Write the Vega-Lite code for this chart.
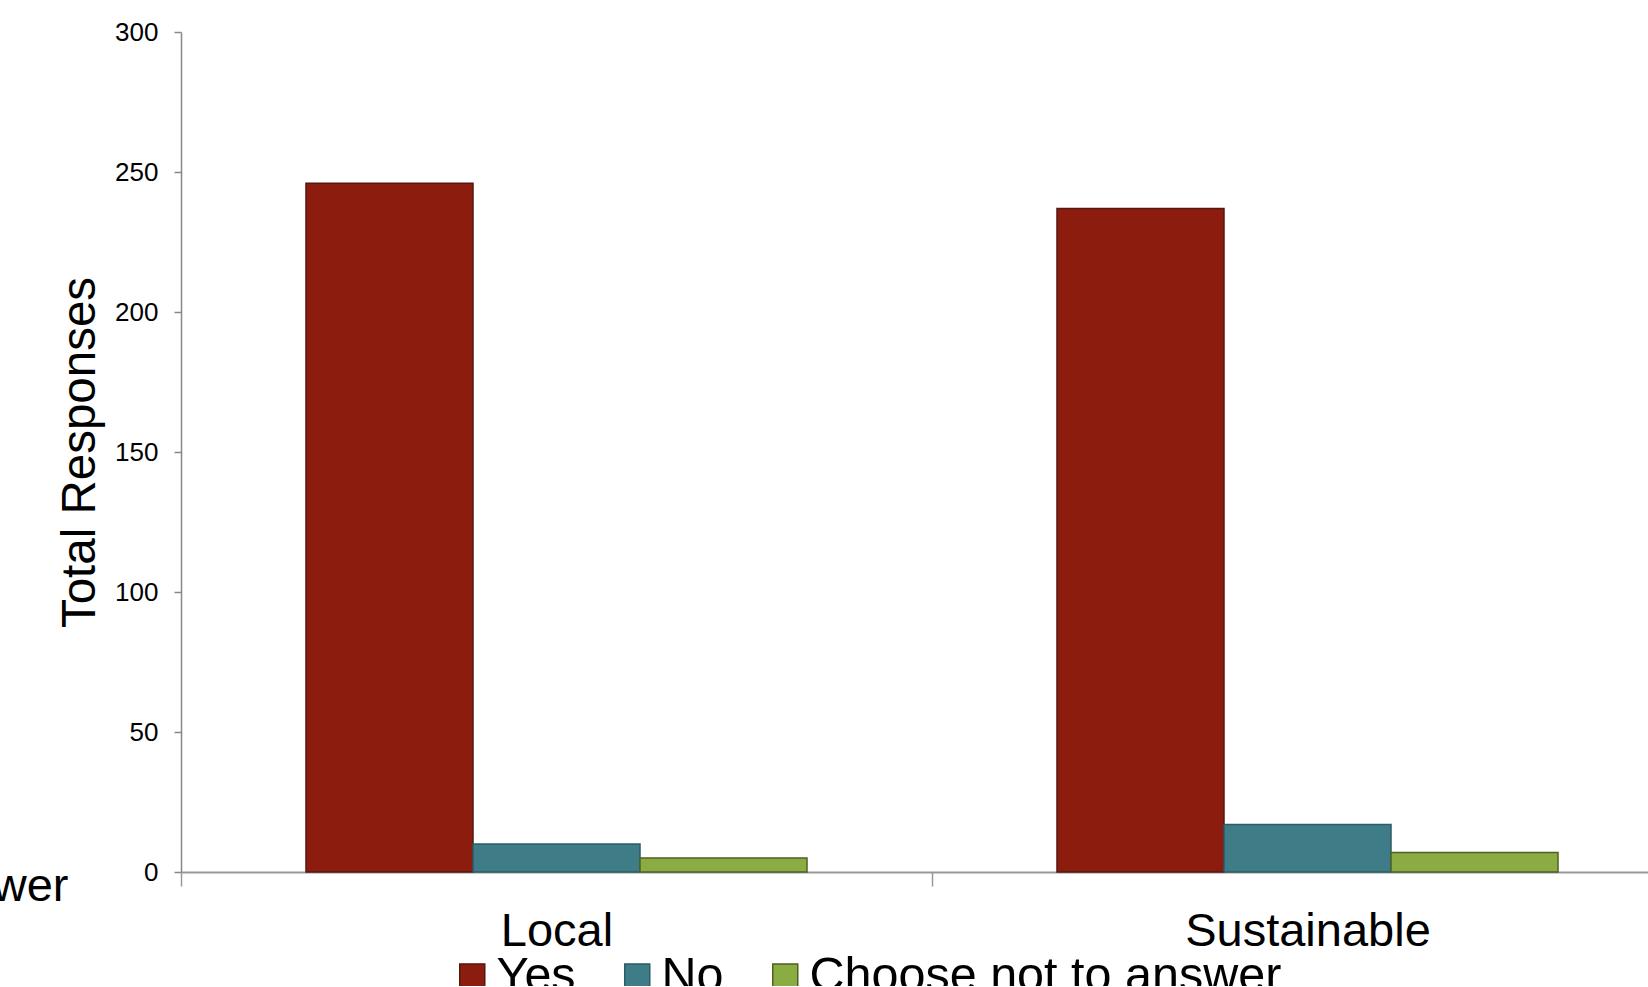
{
  "$schema": "https://vega.github.io/schema/vega-lite/v6.json",
  "autosize": {"type": "none"},
  "padding": {"left": 181, "top": 32, "right": 0, "bottom": 114},
  "width": 1467,
  "height": 840,
  "background": "white",
  "config": {
    "font": "Liberation Sans",
    "view": {"stroke": null},
    "axis": {"labelColor": "#000000", "titleColor": "#000000", "titleFontWeight": "normal", "grid": false}
  },
  "data": {
    "values": [
      {"topic": "Local", "answer": "Yes", "responses": 246},
      {"topic": "Local", "answer": "No", "responses": 10},
      {"topic": "Local", "answer": "Choose not to answer", "responses": 5},
      {"topic": "Sustainable", "answer": "Yes", "responses": 237},
      {"topic": "Sustainable", "answer": "No", "responses": 17},
      {"topic": "Sustainable", "answer": "Choose not to answer", "responses": 7}
    ]
  },
  "mark": {"type": "bar", "strokeWidth": 1.5},
  "encoding": {
    "x": {
      "field": "topic",
      "type": "nominal",
      "sort": ["Local", "Sustainable"],
      "scale": {"range": [0, 1502], "paddingInner": 0, "paddingOuter": 0},
      "axis": {
        "title": "Choose not to answer",
        "titleFontSize": 47,
        "titleAlign": "right",
        "titleAnchor": "start",
        "titleBaseline": "alphabetic",
        "titleX": -113,
        "titleY": 28,
        "labelAngle": 0,
        "labelFontSize": 47,
        "labelLimit": 500,
        "labelBaseline": "alphabetic",
        "labelPadding": 59,
        "tickBand": "extent",
        "tickSize": 14,
        "tickColor": "#999999",
        "tickWidth": 1.5,
        "domainColor": "#999999",
        "domainWidth": 2
      }
    },
    "xOffset": {
      "field": "answer",
      "type": "nominal",
      "sort": ["Yes", "No", "Choose not to answer"],
      "scale": {"paddingInner": 0, "paddingOuter": 0.7485}
    },
    "y": {
      "field": "responses",
      "type": "quantitative",
      "scale": {"domain": [0, 300], "nice": false},
      "axis": {
        "title": "Total Responses",
        "titleFontSize": 47.5,
        "titleAngle": 270,
        "titleAlign": "center",
        "titleBaseline": "alphabetic",
        "titleX": -87,
        "titleY": 420,
        "values": [0, 50, 100, 150, 200, 250, 300],
        "labelFontSize": 26,
        "labelPadding": 16,
        "tickSize": 7,
        "tickColor": "#888888",
        "tickWidth": 1.5,
        "domainColor": "#888888",
        "domainWidth": 1.5
      }
    },
    "fill": {
      "field": "answer",
      "type": "nominal",
      "scale": {"domain": ["Yes", "No", "Choose not to answer"], "range": ["#8b1c0e", "#3e7d88", "#8bab43"]},
      "legend": {
        "title": null,
        "orient": "none",
        "direction": "horizontal",
        "legendX": 267,
        "legendY": 920,
        "symbolType": "square",
        "symbolSize": 625,
        "symbolStrokeWidth": 1.5,
        "labelFontSize": 48.5,
        "labelColor": "#000000",
        "labelOffset": 0,
        "columnPadding": 37,
        "labelLimit": 600
      }
    },
    "stroke": {
      "field": "answer",
      "type": "nominal",
      "scale": {"domain": ["Yes", "No", "Choose not to answer"], "range": ["#561612", "#2c5c64", "#4f6122"]},
      "legend": {
        "title": null,
        "orient": "none",
        "direction": "horizontal",
        "legendX": 267,
        "legendY": 920,
        "symbolType": "square",
        "symbolSize": 625,
        "symbolStrokeWidth": 1.5,
        "labelFontSize": 48.5,
        "labelColor": "#000000",
        "labelOffset": 0,
        "columnPadding": 37,
        "labelLimit": 600
      }
    }
  }
}
